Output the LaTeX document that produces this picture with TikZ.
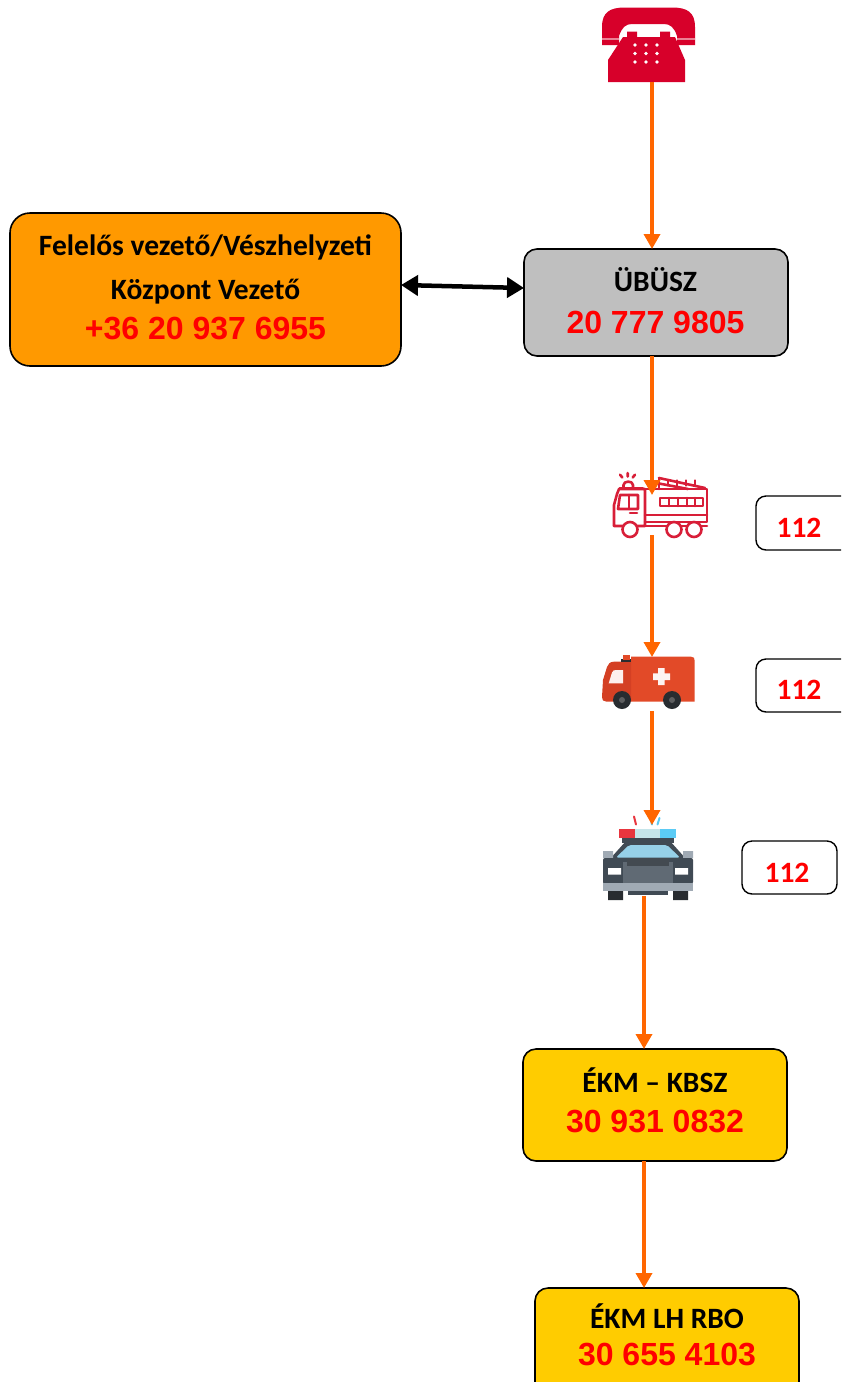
\documentclass[tikz,border=0pt]{standalone}
\usepackage{fontspec}
\setmainfont{Carlito}
\newfontfamily\numfont{Liberation Sans}
\usetikzlibrary{arrows.meta,calc}
\definecolor{boxorange}{RGB}{255,153,0}
\definecolor{boxgray}{RGB}{191,191,191}
\definecolor{boxyellow}{RGB}{255,204,0}
\definecolor{numred}{RGB}{255,0,0}
\definecolor{flow}{RGB}{255,102,0}
\definecolor{phonered}{RGB}{215,0,42}
\definecolor{truckred}{RGB}{216,30,56}
\definecolor{ambred}{RGB}{226,74,40}
\definecolor{ambdark}{RGB}{212,64,36}
\definecolor{tyre}{RGB}{40,44,48}
\definecolor{poldark}{RGB}{64,74,84}
\definecolor{polgrille}{RGB}{96,106,116}
\definecolor{polglass}{RGB}{150,208,232}
\definecolor{polgray}{RGB}{160,170,180}
\definecolor{barred}{RGB}{232,53,62}
\definecolor{barlight}{RGB}{197,229,234}
\definecolor{barblue}{RGB}{91,203,245}
\tikzset{
  box/.style={draw=black, line width=1.6pt, rounded corners=13pt, anchor=north west, inner sep=0pt, outer sep=0pt},
  numbox/.style={draw=black, line width=1.4pt, rounded corners=10pt, anchor=north west, inner sep=0pt, outer sep=0pt, fill=white},
  title/.style={font=\bfseries\fontsize{29.5}{34}\selectfont, text=black, anchor=base, inner sep=0pt},
  phonenum/.style={font=\numfont\bfseries\fontsize{32}{36}\selectfont, text=numred, anchor=base, inner sep=0pt},
  shortnum/.style={font=\bfseries\fontsize{29.5}{34}\selectfont, text=numred, anchor=base, inner sep=0pt},
  iconspot/.style={inner sep=0pt, outer sep=0pt, minimum width=20pt},
  flowarrow/.style={draw=flow, line width=3.5pt, -{Triangle[width=16pt,length=15pt]}},
  linkarrow/.style={draw=black, line width=4.5pt, {Triangle[width=20pt,length=17pt]}-{Triangle[width=20pt,length=17pt]}},
}
\begin{document}
\begin{tikzpicture}[x=1pt,y=-1pt]
\useasboundingbox (0,0) rectangle (841,1382);
\clip (0,0) rectangle (841,1382);

% ---------- boxes ----------
\node[box, fill=boxorange, rounded corners=20pt, minimum width=391pt, minimum height=153pt] (lead) at (10,213) {};
\node[title] (leadA) at (205.5,255) {Felelős vezető/Vészhelyzeti};
\node[title] (leadB) at (205.5,299) {Központ Vezető};
\node[phonenum] (leadN) at (205.5,339) {+36 20 937 6955};

\node[box, fill=boxgray, minimum width=264pt, minimum height=107pt] (ubusz) at (524,249) {};
\node[title] (ubuszT) at (655.5,291) {ÜBÜSZ};
\node[phonenum] (ubuszN) at (655.5,333) {20 777 9805};

\node[box, fill=boxyellow, minimum width=264pt, minimum height=112pt] (ekm) at (523,1049) {};
\node[title] (ekmT) at (655,1092) {ÉKM – KBSZ};
\node[phonenum] (ekmN) at (655,1132) {30 931 0832};

\node[box, fill=boxyellow, minimum width=264pt, minimum height=130pt] (rbo) at (535,1288) {};
\node[title] (rboT) at (667,1328) {ÉKM LH RBO};
\node[phonenum] (rboN) at (667,1365) {30 655 4103};

\node[numbox, minimum width=96pt, minimum height=54pt] (n1) at (756,496) {};
\node[shortnum] (n1T) at (799,537) {112};
\node[numbox, minimum width=96pt, minimum height=53pt] (n2) at (756,659) {};
\node[shortnum] (n2T) at (799,699) {112};
\node[numbox, minimum width=95pt, minimum height=53pt] (n3) at (742,841) {};
\node[shortnum] (n3T) at (787,882) {112};

% ---------- icon anchors ----------
\node[iconspot, minimum height=78pt] (phone) at (652,43) {};
\node[iconspot, minimum height=40pt] (truck) at (652,515) {};
\node[iconspot, minimum height=54pt] (amb) at (652,684) {};
\node[iconspot, minimum height=71pt] (police) at (652,860.5) {};
\coordinate (pout) at ($(police.south)+(-8,0)$);

% ---------- telephone ----------
\fill[phonered] (602,45) -- (602,27) .. controls (602,12) and (610,7.5) .. (625,7.5)
  -- (672,7.5) .. controls (687,7.5) and (695,12) .. (695,27) -- (695,45) -- (677,45) -- (677,36)
  .. controls (674,27) and (670,24) .. (664,24) -- (632,24) .. controls (626,24) and (622,27) .. (619,36)
  -- (619,45) -- cycle;
\draw[white!50!phonered, line width=1.2pt] (602,39) -- (619,39) (677,39) -- (695,39);
\fill[phonered] (627,31.5) rectangle (637,38) (660,31.5) rectangle (670,38);
\fill[phonered] (623,37) -- (675,37) -- (685,60) -- (685,82) -- (608,82) -- (608,60) -- cycle;
\foreach \px in {635,646,657} \foreach \py in {45,53.5,62} \fill[white] (\px,\py) circle (1.9pt);

% ---------- fire truck ----------
\begin{scope}[draw=truckred, line width=2.6pt, line join=round, line cap=round]
  \draw (620,474.7) -- (622.3,477.5) (627.7,473) -- (627.7,476.5) (635,474.7) -- (632.7,477.5);
  \draw (623.5,488) -- (623.5,485) .. controls (623.5,480.5) and (633,480.5) .. (633,485) -- (633,488);
  \draw (619.5,488.5) -- (643,488.5);
  % cab
  \draw (645,526) -- (614,526) -- (614,505) -- (617,494) -- (619,489) -- (645,489) -- cycle;
  \draw (618,509) -- (620,495) -- (638,495) -- (638,509) -- cycle;
  \draw (629,495) -- (629,509);
  \draw (630,513) -- (637,513);
  % body
  \draw (645,489) -- (707,489) -- (707,522) -- (645,522);
  \draw (645,515) -- (707,515);
  \draw (660,498) rectangle (703,506);
  \foreach \lx in {669,678,687,695} \draw (\lx,498) -- (\lx,506);
  % ladder
  \draw (659,478) -- (705,488) (659,483.5) -- (688,489);
  \draw (659,478) -- (659,489);
  \foreach \lx in {668,677,686,695} \draw (\lx,480.5) -- (\lx,485.5);
  % chassis & wheels
  \draw (614,526) -- (707,526);
  \draw[fill=white] (630,529.5) circle (7.5pt) (674,529.5) circle (7.5pt) (694,529.5) circle (7.5pt);
\end{scope}

% ---------- ambulance ----------
\fill[ambred] (631,656.7) -- (691,656.7) .. controls (694,656.7) and (694.7,658) .. (694.7,661) -- (694.7,701.5) -- (631,701.5) -- cycle;
\fill[ambdark] (631,661.7) -- (614,661.7) .. controls (610,661.7) and (608,664) .. (607,667)
  -- (603,680) -- (602,697) .. controls (602,700) and (603,701.5) .. (606,701.5) -- (631,701.5) -- cycle;
\fill[white!92!ambred] (608.7,683.3) -- (612,672.5) .. controls (613,670.5) and (614,670) .. (616,670) -- (623,670) -- (623,683.3) -- cycle;
\fill[tyre] (620.7,659) rectangle (631.3,662);
\fill[ambred] (623,655) rectangle (629.7,659.5);
\fill[white!94!ambred] (658,668) rectangle (664.7,685) (653,673.3) rectangle (670,680);
\fill[tyre] (622,700) circle (9pt) (672,700) circle (9pt);
\fill[gray!60!tyre] (622,700) circle (3pt) (672,700) circle (3pt);

% ---------- police car ----------
\draw[barred, line width=2pt, line cap=round] (634,816.5) -- (636,824.5);
\draw[barblue, line width=2pt, line cap=round] (659.5,818) -- (657.5,824.5) (650,816.5) -- (652,824.5);
\fill[barred] (619,828.7) rectangle (635.3,838);
\fill[barlight] (635.3,828.7) rectangle (659.7,838);
\fill[barblue] (659.7,828.7) rectangle (676.3,838);
\fill[poldark] (622,838) rectangle (674,843);
\fill[poldark, rounded corners=3pt] (626,841) -- (670,841) -- (687,860) -- (609,860) -- cycle;
\fill[polglass, rounded corners=2pt] (629,845) -- (667,845) -- (680,857.5) -- (616,857.5) -- cycle;
\fill[polgray] (603,851) rectangle (613,858) (683,851) rectangle (693,858);
\fill[poldark, rounded corners=2pt] (603,858) rectangle (693,884);
\fill[polgrille] (623,862) rectangle (673,884);
\fill[polgrille!70!black] (627,858) rectangle (669,866);
\fill[white] (608,868) rectangle (621,874.5) (675,868) rectangle (688,874.5);
\fill[polgray] (603,883) rectangle (693,891);
\fill[tyre] (608,891) rectangle (623,900) (673,891) rectangle (688,900);
\fill[poldark] (628,891) rectangle (668,894.5);

% ---------- connectors ----------
\draw[linkarrow] ($(lead.east)+(0,-4.5)$) -- ($(ubusz.west)+(0,-14.5)$);
\draw[flowarrow] (phone.south) -- (phone.south |- ubusz.north);
\draw[flowarrow] (phone.south |- ubusz.south) -- (truck.north);
\draw[flowarrow] (truck.south) -- (amb.north);
\draw[flowarrow] (amb.south) -- (police.north);
\draw[flowarrow] (pout) -- (pout |- ekm.north);
\draw[flowarrow] (pout |- ekm.south) -- (pout |- rbo.north);
\end{tikzpicture}
\end{document}
